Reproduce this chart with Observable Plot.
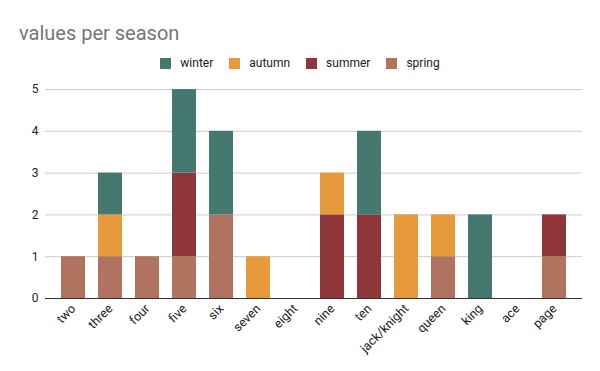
<!DOCTYPE html>
<html>
<head>
<meta charset="utf-8">
<script src="https://cdn.jsdelivr.net/npm/d3@7"></script>
<script src="https://cdn.jsdelivr.net/npm/@observablehq/plot@0.6"></script>
<style>
  body { margin: 0; background: #fff; font-family: Roboto, sans-serif; }
  #wrap { width: 600px; height: 371px; position: relative; overflow: hidden; }
  #title { position: absolute; left: 19px; top: 21px; font-size: 20px; line-height: 24px; color: #757575; white-space: nowrap; }
  #legend { position: absolute; top: 56px; left: 0; width: 600px; display: flex; justify-content: center; font-size: 12px; line-height: 14px; color: #222; }
  .item { display: flex; align-items: center; margin: 0 8px; }
  .sw { width: 11px; height: 11px; margin-right: 9px; }
  #chart { position: absolute; top: 76px; left: 0; }
</style>
</head>
<body>
<div id="wrap">
  <div id="title">values per season</div>
  <div id="legend"></div>
  <div id="chart"></div>
</div>
<script>
const categories = ["two","three","four","five","six","seven","eight","nine","ten","jack/knight","queen","king","ace","page"];
const seasons = ["spring","summer","autumn","winter"];
const legendOrder = ["winter","autumn","summer","spring"];
const seasonColors = ["#af735f","#8f363b","#e69a3b","#45796f"];
const spring = [1,1,1,1,2,0,0,0,0,0,1,0,0,1];
const summer = [0,0,0,2,0,0,0,2,2,0,0,0,0,1];
const autumn = [0,1,0,0,0,1,0,1,0,2,1,0,0,0];
const winter = [0,1,0,2,2,0,0,0,2,0,0,2,0,0];
const yTicks = [0,1,2,3,4,5];

const series = {spring, summer, autumn, winter};
const data = [];
categories.forEach((c, i) => {
  seasons.forEach(s => {
    if (series[s][i] > 0) data.push({cat: c, season: s, value: series[s][i]});
  });
});

const leg = document.getElementById("legend");
legendOrder.forEach(s => {
  const it = document.createElement("div");
  it.className = "item";
  const sw = document.createElement("div");
  sw.className = "sw";
  sw.style.background = seasonColors[seasons.indexOf(s)];
  const t = document.createElement("span");
  t.textContent = s;
  it.appendChild(sw); it.appendChild(t);
  leg.appendChild(it);
});

const chart = Plot.plot({
  width: 600,
  height: 295,
  marginTop: 13,
  marginBottom: 73,
  marginLeft: 45,
  marginRight: 18,
  style: {fontFamily: "Roboto, sans-serif", fontSize: "12px", color: "#222", background: "transparent"},
  x: {domain: categories, paddingInner: 0.357, paddingOuter: 0.377, label: null},
  y: {domain: [0, 5], label: null},
  color: {domain: seasons, range: seasonColors},
  marks: [
    Plot.ruleY(yTicks.filter(d => d > 0), {stroke: "#cccccc", strokeWidth: 1}),
    Plot.barY(data, {x: "cat", y: "value", fill: "season"}),
    Plot.ruleY([0], {stroke: "#333", strokeWidth: 1}),
    Plot.axisY({ticks: yTicks, tickFormat: "d", tickSize: 0, tickPadding: 7, label: null, fill: "#222", fontSize: 12}),
    Plot.axisX({tickSize: 0, tickRotate: -45, tickPadding: 8, label: null, fill: "#222", fontSize: 12.5})
  ]
});
document.getElementById("chart").appendChild(chart);
</script>
</body>
</html>
